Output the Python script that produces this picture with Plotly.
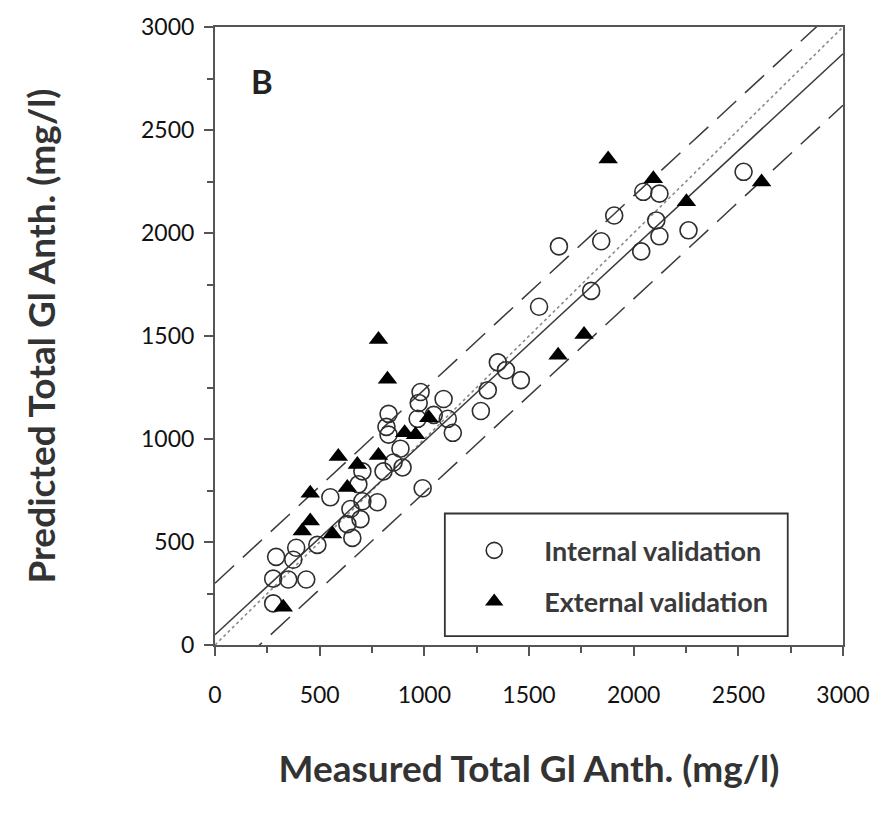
import plotly.graph_objects as go

# Internal validation (open circles): measured, predicted
int_measured = [278, 278, 350, 436, 292, 374, 388, 489, 551, 647, 704, 776, 632, 695, 656,
                685, 704, 805, 853, 896, 829, 819, 886, 968, 1045, 1112, 1136, 982, 1092, 973,
                992, 1270, 1303, 1351, 1390, 1461, 1548, 1797, 1643, 1845, 1907, 2036, 2046,
                2123, 2108, 2123, 2262, 2525, 829]
int_predicted = [202, 322, 318, 318, 428, 414, 472, 486, 717, 660, 698, 693, 587, 611, 520,
                 780, 843, 843, 886, 862, 1021, 1059, 953, 1098, 1117, 1098, 1030, 1228, 1194, 1175,
                 761, 1136, 1237, 1372, 1334, 1286, 1642, 1719, 1935, 1960, 2085, 1911, 2200,
                 2191, 2061, 1984, 2013, 2297, 1122]

# External validation (filled triangles)
ext_measured = [326, 417, 455, 561, 455, 632, 589, 680, 781, 906, 958, 1021, 824, 781,
                1639, 1763, 1878, 2094, 2252, 2611]
ext_predicted = [183, 554, 602, 539, 737, 765, 915, 876, 920, 1030, 1021, 1103, 1290, 1483,
                 1406, 1507, 2359, 2263, 2152, 2248]

# Reference lines (end points)
line_x = [0, 3000]
fit_y = [50, 2870]          # solid regression line
upper_y = [300, 3120]       # upper dashed band
lower_y = [-200, 2620]      # lower dashed band
identity_y = [0, 3000]      # dotted 1:1 line

tick_vals = [0, 500, 1000, 1500, 2000, 2500, 3000]
tick_text = ["0", "500", "1000", "1500", "2000", "2500", "3000"]

fig = go.Figure()

line_col = "#3a3a3a"
fig.add_trace(go.Scatter(x=line_x, y=identity_y, mode="lines", showlegend=False,
                         line=dict(color="#8a8a8a", width=1.6, dash="dot"), hoverinfo="skip"))
fig.add_trace(go.Scatter(x=line_x, y=fit_y, mode="lines", showlegend=False,
                         line=dict(color=line_col, width=1.5), hoverinfo="skip"))
fig.add_trace(go.Scatter(x=line_x, y=upper_y, mode="lines", showlegend=False,
                         line=dict(color=line_col, width=1.5, dash="26px,12px"), hoverinfo="skip"))
fig.add_trace(go.Scatter(x=line_x, y=lower_y, mode="lines", showlegend=False,
                         line=dict(color=line_col, width=1.5, dash="26px,12px"), hoverinfo="skip"))

fig.add_trace(go.Scatter(x=int_measured, y=int_predicted, mode="markers",
                         name="Internal validation", legendgroup="a",
                         marker=dict(symbol="circle-open", size=17, color="#2e2e2e",
                                     line=dict(width=1.6, color="#2e2e2e"))))
fig.add_trace(go.Scatter(x=ext_measured, y=ext_predicted, mode="markers",
                         name="External validation", legendgroup="b",
                         marker=dict(symbol="triangle-up", size=17, color="black",
                                     line=dict(width=0))))

axis_common = dict(
    range=[0, 3000], tickvals=tick_vals, ticktext=tick_text,
    ticks="outside", ticklen=9, tickwidth=2, tickcolor="#555",
    showline=True, linecolor="#555", linewidth=2, mirror=True,
    showgrid=False, zeroline=False,
    tickfont=dict(family="Lato", size=23, color="#111"),
    minor=dict(dtick=250, tick0=0, ticks="outside", ticklen=6, tickwidth=1.5, tickcolor="#555"),
)

fig.update_xaxes(**axis_common, ticklabelstandoff=19,
                 title=dict(text="Measured Total Gl Anth. (mg/l)", standoff=50,
                            font=dict(family="Lato", size=37, color="#333", weight="bold")))
fig.update_yaxes(**axis_common, ticklabelstandoff=5,
                 title=dict(text="Predicted Total Gl Anth. (mg/l)", standoff=74,
                            font=dict(family="Lato", size=37, color="#333", weight="bold")))

# legend frame
fig.add_shape(type="rect", xref="paper", yref="paper", x0=0.366, x1=0.912, y0=0.0144, y1=0.2128,
              line=dict(color="#333", width=1.8), fillcolor="white", layer="below")

fig.add_annotation(text="B", xref="paper", yref="paper", x=0.054, y=0.912, showarrow=False,
                   font=dict(family="Lato", size=33, color="#222", weight="bold"),
                   xanchor="left", yanchor="middle")

fig.update_layout(
    width=895, height=818,
    margin=dict(l=215, r=52, t=20, b=173),
    plot_bgcolor="white", paper_bgcolor="white",
    showlegend=True,
    legend=dict(x=0.365, y=0.192, xanchor="left", yanchor="top",
                bgcolor="rgba(0,0,0,0)", borderwidth=0,
                font=dict(family="Lato", size=27, color="#3a3a3a", weight="bold"),
                itemwidth=90, tracegroupgap=13),
)

fig.write_html("out.html")
